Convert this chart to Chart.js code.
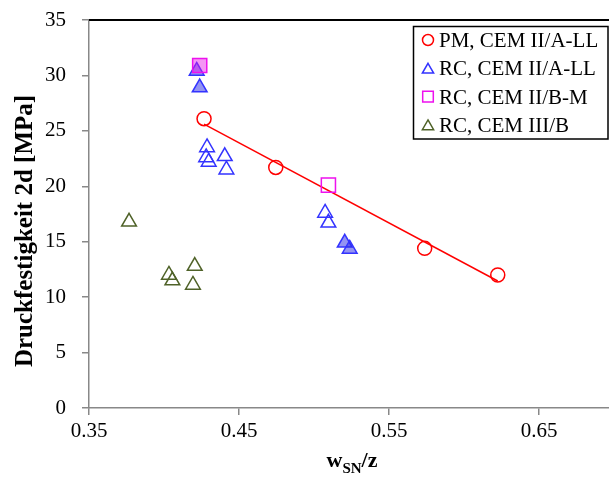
<!DOCTYPE html>
<html>
<head>
<meta charset="utf-8">
<script src="https://cdn.jsdelivr.net/npm/chart.js@4/dist/chart.umd.min.js"></script>
<style>
  html, body { margin: 0; padding: 0; background: #fff; overflow: hidden; }
  #wrap { width: 609px; height: 483px; }
</style>
</head>
<body>
<div id="wrap"><canvas id="chart"></canvas></div>
<script>
// ── Data ──────────────────────────────────────────────────
const pmX = [0.4267, 0.4745, 0.5738, 0.6225];
const pmY = [26.1, 21.7, 14.4, 12.0];

const rcLlX = [0.4287, 0.4281, 0.4298, 0.4405, 0.4416, 0.5074, 0.5096];
const rcLlY = [23.5, 22.6, 22.2, 22.7, 21.5, 17.6, 16.7];
const rcLlFilledX = [0.4218, 0.4238, 0.5205, 0.5238];
const rcLlFilledY = [30.4, 28.9, 14.9, 14.35];

const rcBmX = [0.5096];
const rcBmY = [20.1];
const rcBmFilledX = [0.4238];
const rcBmFilledY = [30.9];

const rcIIIX = [0.3767, 0.4205, 0.4033, 0.4056, 0.4193];
const rcIIIY = [16.8, 12.8, 12.0, 11.5, 11.1];

const xTicks = [0.35, 0.45, 0.55, 0.65];
const yTicks = [0, 5, 10, 15, 20, 25, 30, 35];

const legendLabels = ['PM, CEM II/A-LL', 'RC, CEM II/A-LL', 'RC, CEM II/B-M', 'RC, CEM III/B'];

// ── Helpers ───────────────────────────────────────────────
const RED = '#ff0000';
const BLUE = '#3333ff';
const MAGENTA = '#ee11ee';
const OLIVE = '#4f6228';
const AXIS = '#888888';
const SERIF = '"Liberation Serif", "Times New Roman", serif';

const pts = (xs, ys) => xs.map((x, i) => ({ x, y: ys[i] }));

function linearFit(xs, ys) {
  const n = xs.length;
  const mx = xs.reduce((a, b) => a + b, 0) / n;
  const my = ys.reduce((a, b) => a + b, 0) / n;
  let sxy = 0, sxx = 0;
  xs.forEach((x, i) => { sxy += (x - mx) * (ys[i] - my); sxx += (x - mx) * (x - mx); });
  const k = sxy / sxx;
  return x => my + k * (x - mx);
}
const fit = linearFit(pmX, pmY);
const fitX = [Math.min(...pmX), Math.max(...pmX)];
const fitLine = fitX.map(x => ({ x, y: fit(x) }));

// ── Plugins ───────────────────────────────────────────────
const decor = {
  id: 'decor',
  afterDraw(chart) {
    const { ctx, chartArea } = chart;
    ctx.save();
    // top frame line
    ctx.strokeStyle = '#000';
    ctx.lineWidth = 2;
    ctx.beginPath();
    ctx.moveTo(chartArea.left, chartArea.top);
    ctx.lineTo(chart.width, chartArea.top);
    ctx.stroke();

    // legend box
    ctx.fillStyle = '#fff';
    ctx.fillRect(413, 26, 195, 113);
    ctx.lineWidth = 1.5;
    ctx.strokeRect(413.5, 26.5, 194.5, 112.5);
    const styles = [
      { style: 'circle', color: RED, r: 5.5 },
      { style: 'triangle', color: BLUE, r: 6.5 },
      { style: 'rect', color: MAGENTA, r: 7.5 },
      { style: 'triangle', color: OLIVE, r: 6.5 }
    ];
    ctx.textBaseline = 'alphabetic';
    ctx.textAlign = 'left';
    legendLabels.forEach((label, i) => {
      const cy = 40 + i * 28.3;
      const s = styles[i];
      ctx.strokeStyle = s.color;
      ctx.fillStyle = 'rgba(0,0,0,0)';
      ctx.lineWidth = 1.5;
      Chart.helpers.drawPoint(ctx, { pointStyle: s.style, radius: s.r, borderWidth: 1.5 }, 428, cy + (s.style === 'triangle' ? 1.5 : 0));
      ctx.font = '21px ' + SERIF;
      ctx.fillStyle = '#000';
      ctx.fillText(label, 439, cy + 7);
    });

    // y axis title
    ctx.save();
    ctx.translate(32, 231);
    ctx.rotate(-Math.PI / 2);
    ctx.font = 'bold 25px ' + SERIF;
    ctx.textAlign = 'center';
    ctx.fillStyle = '#000';
    ctx.fillText('Druckfestigkeit 2d [MPa]', 0, 0);
    ctx.restore();

    // x axis title: w_SN/z
    const big = 'bold 22px ' + SERIF;
    const small = 'bold 15px ' + SERIF;
    ctx.font = big; const w1 = ctx.measureText('w').width;
    const w3 = ctx.measureText('/z').width;
    ctx.font = small; const w2 = ctx.measureText('SN').width;
    let x = 352 - (w1 + w2 + w3) / 2;
    ctx.fillStyle = '#000';
    ctx.font = big; ctx.fillText('w', x, 467); x += w1;
    ctx.font = small; ctx.fillText('SN', x, 473); x += w2;
    ctx.font = big; ctx.fillText('/z', x, 467);
    ctx.restore();
  }
};

// ── Chart ─────────────────────────────────────────────────
const markerBase = { showLine: false, borderWidth: 1.5, pointBorderWidth: 1.5, pointHoverRadius: 8 };

new Chart(document.getElementById('chart'), {
  type: 'scatter',
  data: {
    datasets: [
      { ...markerBase, label: 'RC, CEM II/B-M filled', data: pts(rcBmFilledX, rcBmFilledY), pointStyle: 'rect', pointRadius: 10,
        borderColor: MAGENTA, backgroundColor: 'rgba(230,20,230,0.45)', order: 1 },
      { ...markerBase, label: legendLabels[2], data: pts(rcBmX, rcBmY), pointStyle: 'rect', pointRadius: 10,
        borderColor: MAGENTA, backgroundColor: 'rgba(0,0,0,0)', order: 2 },
      { ...markerBase, label: legendLabels[0], data: pts(pmX, pmY), pointStyle: 'circle', pointRadius: 7,
        borderColor: RED, backgroundColor: 'rgba(0,0,0,0)', order: 3 },
      { type: 'line', label: 'Trend', data: fitLine, borderColor: RED, borderWidth: 1.5, pointRadius: 0, pointHoverRadius: 0, order: 4 },
      { ...markerBase, label: 'RC, CEM II/A-LL filled', data: pts(rcLlFilledX, rcLlFilledY), pointStyle: 'triangle', pointRadius: 8.5,
        borderColor: BLUE, backgroundColor: 'rgba(40,40,230,0.5)', order: 5 },
      { ...markerBase, label: legendLabels[1], data: pts(rcLlX, rcLlY), pointStyle: 'triangle', pointRadius: 8.5,
        borderColor: BLUE, backgroundColor: 'rgba(0,0,0,0)', order: 6 },
      { ...markerBase, label: legendLabels[3], data: pts(rcIIIX, rcIIIY), pointStyle: 'triangle', pointRadius: 8.5,
        borderColor: OLIVE, backgroundColor: 'rgba(0,0,0,0)', order: 7 }
    ]
  },
  options: {
    responsive: true,
    maintainAspectRatio: false,
    animation: false,
    layout: { autoPadding: false, padding: { left: 0, top: 20, right: 0, bottom: 0 } },
    plugins: { legend: { display: false }, tooltip: { enabled: false } },
    scales: {
      x: {
        type: 'linear',
        min: 0.35,
        max: 0.35 + (609 - 89) / 1500,
        afterBuildTicks: s => { s.ticks = xTicks.map(v => ({ value: v })); },
        afterFit: s => { s.height = 75; s.paddingLeft = 0; s.paddingRight = 0; },
        grid: { display: true, drawOnChartArea: false, drawTicks: true, tickLength: 7, color: AXIS, lineWidth: 1.5 },
        border: { color: AXIS, width: 1.5 },
        ticks: { font: { family: SERIF, size: 21 }, color: '#000', padding: 4, maxRotation: 0,
                 callback: v => v.toFixed(2) }
      },
      y: {
        type: 'linear',
        min: 0,
        max: 35,
        afterBuildTicks: s => { s.ticks = yTicks.map(v => ({ value: v })); },
        afterFit: s => { s.width = 89; s.paddingTop = 0; s.paddingBottom = 0; },
        grid: { display: true, drawOnChartArea: false, drawTicks: true, tickLength: 7, color: AXIS, lineWidth: 1.5 },
        border: { color: AXIS, width: 1.5 },
        ticks: { font: { family: SERIF, size: 21 }, color: '#000', padding: 16 }
      }
    }
  },
  plugins: [decor]
});
</script>
</body>
</html>
